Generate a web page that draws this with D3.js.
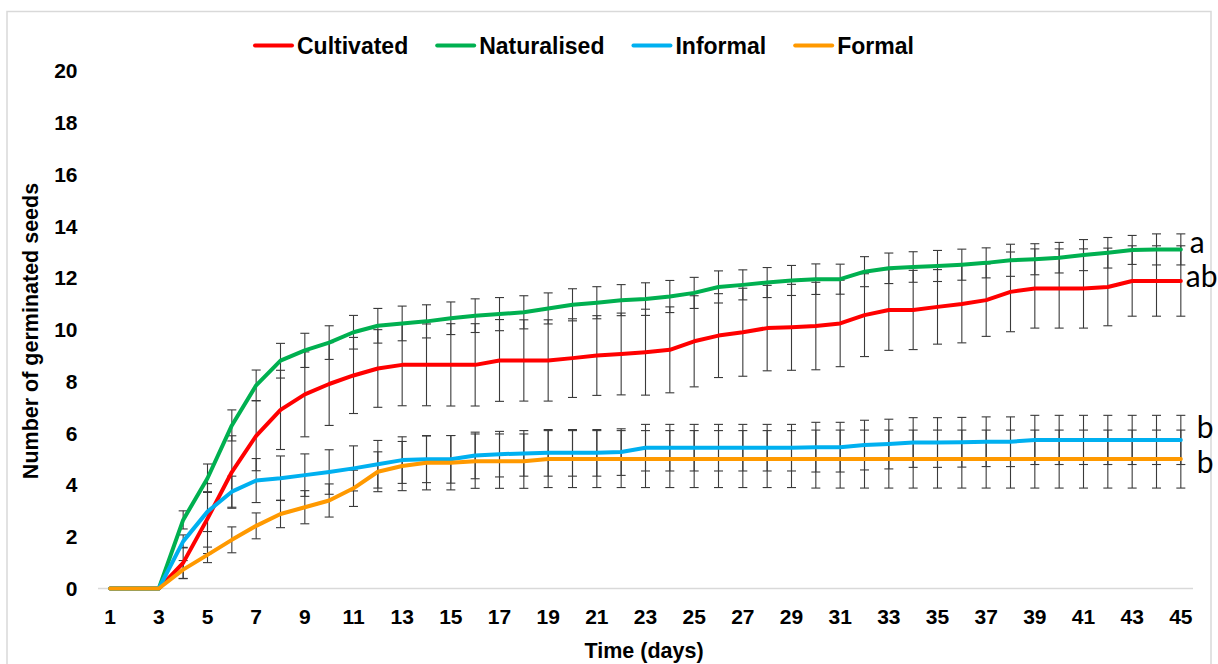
<!DOCTYPE html>
<html><head><meta charset="utf-8">
<script src="https://cdn.jsdelivr.net/npm/d3@7"></script>
<style>html,body{margin:0;padding:0;background:#fff;} svg{display:block;}</style>
</head><body><svg id="chart" width="1218" height="664"></svg>
<script>
const days = [1,2,3,4,5,6,7,8,9,10,11,12,13,14,15,16,17,18,19,20,21,22,23,24,25,26,27,28,29,30,31,32,33,34,35,36,37,38,39,40,41,42,43,44,45];
const xTickLabels = [1,3,5,7,9,11,13,15,17,19,21,23,25,27,29,31,33,35,37,39,41,43,45];
const yTicks = [0,2,4,6,8,10,12,14,16,18,20];
const seriesNames = ["Cultivated","Naturalised","Informal","Formal"];
const seriesColors = ["#FF0000","#00B050","#00B0F0","#FF9900"];
const groupLetters = ["ab","a","b","b"];

const cultivated = [0,0,0,0.99,2.7,4.5,5.9,6.9,7.5,7.9,8.23,8.5,8.64,8.64,8.64,8.64,8.81,8.81,8.81,8.9,9.0,9.06,9.13,9.22,9.55,9.77,9.9,10.06,10.09,10.14,10.24,10.56,10.76,10.76,10.88,10.99,11.14,11.46,11.59,11.59,11.59,11.65,11.88,11.88,11.88];
const cultivatedSE = [0,0,0,0.6,1.35,1.4,1.35,1.53,1.64,1.6,1.47,1.5,1.58,1.58,1.59,1.59,1.58,1.57,1.57,1.52,1.54,1.58,1.66,1.66,1.76,1.62,1.7,1.65,1.66,1.69,1.67,1.6,1.56,1.53,1.44,1.5,1.4,1.54,1.53,1.53,1.53,1.5,1.36,1.36,1.36];
const naturalised = [0,0,0,2.65,4.26,6.3,7.85,8.8,9.2,9.5,9.9,10.15,10.24,10.32,10.44,10.54,10.6,10.67,10.82,10.96,11.04,11.14,11.18,11.28,11.42,11.65,11.73,11.82,11.9,11.95,11.95,12.24,12.37,12.42,12.46,12.51,12.58,12.68,12.72,12.78,12.88,12.97,13.08,13.1,13.1];
const naturalisedSE = [0,0,0,0.35,0.55,0.6,0.59,0.67,0.66,0.65,0.65,0.67,0.67,0.64,0.63,0.65,0.64,0.64,0.6,0.62,0.62,0.6,0.63,0.62,0.6,0.62,0.58,0.58,0.58,0.59,0.58,0.58,0.59,0.59,0.6,0.6,0.58,0.62,0.6,0.59,0.6,0.59,0.56,0.6,0.6];
const informal = [0,0,0,1.82,2.97,3.74,4.17,4.26,4.38,4.5,4.64,4.8,4.96,4.99,4.99,5.14,5.19,5.22,5.24,5.24,5.24,5.27,5.44,5.44,5.44,5.44,5.44,5.44,5.44,5.46,5.46,5.54,5.58,5.64,5.64,5.65,5.67,5.67,5.74,5.74,5.74,5.74,5.74,5.74,5.74];
const informalSE = [0,0,0,0.25,0.77,0.6,0.85,0.86,0.82,0.86,0.87,0.92,0.9,0.9,0.92,0.9,0.88,0.88,0.9,0.9,0.9,0.9,0.9,0.9,0.9,0.9,0.9,0.9,0.9,0.96,0.96,0.96,0.96,0.96,0.96,0.96,0.96,0.96,0.95,0.95,0.95,0.95,0.95,0.95,0.95];
const formal = [0,0,0,0.73,1.3,1.88,2.42,2.88,3.14,3.4,3.87,4.51,4.73,4.86,4.86,4.92,4.92,4.92,5,5,5,5,5,5,5,5,5,5,5,5,5,5,5,5,5,5,5,5,5,5,5,5,5,5,5];
const formalSE = [0,0,0,0.35,0.3,0.5,0.5,0.53,0.64,0.64,0.7,0.77,0.95,1.05,1.05,1.05,1.05,1.05,1.1,1.1,1.1,1.1,1.1,1.1,1.1,1.1,1.1,1.1,1.1,1.12,1.12,1.12,1.12,1.12,1.12,1.12,1.12,1.12,1.12,1.12,1.12,1.12,1.12,1.12,1.12];

const seriesValues = [cultivated, naturalised, informal, formal];
const seriesErrors = [cultivatedSE, naturalisedSE, informalSE, formalSE];

const svg = d3.select("#chart");
const FONT = "'Liberation Sans', Arial, sans-serif";

// outer frame
svg.append("rect").attr("x", 7).attr("y", 11.5).attr("width", 1204).attr("height", 700)
  .attr("fill", "#fff").attr("stroke", "#d9d9d9").attr("stroke-width", 1.5);

const band = d3.scaleBand().domain(days).range([98, 1193]).padding(0);
const x = d => band(d) + band.bandwidth() / 2;
const y = d3.scaleLinear().domain([0, 20]).range([588.5, 70.8]);

// x axis line
svg.append("line").attr("x1", 98).attr("x2", 1193).attr("y1", y(0)).attr("y2", y(0))
  .attr("stroke", "#d9d9d9").attr("stroke-width", 1.5);

// y tick labels
svg.append("g").selectAll("text").data(yTicks).join("text")
  .attr("x", 77.5).attr("y", d => y(d) + 7.5)
  .attr("text-anchor", "end").attr("font-family", FONT).attr("font-weight", "bold")
  .attr("font-size", 21).attr("fill", "#000").text(d => d);

// x tick labels
svg.append("g").selectAll("text").data(xTickLabels).join("text")
  .attr("x", d => x(d)).attr("y", 624)
  .attr("text-anchor", "middle").attr("font-family", FONT).attr("font-weight", "bold")
  .attr("font-size", 21).attr("fill", "#000").text(d => d);

// axis titles
svg.append("text").attr("x", 644).attr("y", 657.5).attr("text-anchor", "middle")
  .attr("font-family", FONT).attr("font-weight", "bold").attr("font-size", 21.5)
  .text("Time (days)");
svg.append("text").attr("transform", "translate(38.3,331) rotate(-90)").attr("text-anchor", "middle")
  .attr("font-family", FONT).attr("font-weight", "bold").attr("font-size", 21.5)
  .text("Number of germinated seeds");

// error bars
const eg = svg.append("g").attr("stroke", "#3a3a3a").attr("stroke-width", 1.1);
seriesValues.forEach((vals, si) => {
  const errs = seriesErrors[si];
  days.forEach((d, i) => {
    const se = errs[i];
    if (!se) return;
    const cx = x(d), y1 = y(vals[i] + se), y2 = y(vals[i] - se);
    eg.append("line").attr("x1", cx).attr("x2", cx).attr("y1", y1).attr("y2", y2);
    eg.append("line").attr("x1", cx - 4.5).attr("x2", cx + 4.5).attr("y1", y1).attr("y2", y1);
    eg.append("line").attr("x1", cx - 4.5).attr("x2", cx + 4.5).attr("y1", y2).attr("y2", y2);
  });
});

// lines
const lineGen = d3.line().x((v, i) => x(days[i])).y(v => y(v));
seriesValues.forEach((vals, si) => {
  svg.append("path").attr("d", lineGen(vals)).attr("fill", "none")
    .attr("stroke", seriesColors[si]).attr("stroke-width", 4)
    .attr("stroke-linejoin", "round").attr("stroke-linecap", "round");
});

// group letters
const letterDx = [5, 9, 16, 16];
const letterDy = [6, 4, -2, 14];
seriesValues.forEach((vals, si) => {
  svg.append("text").attr("x", x(days[days.length - 1]) + letterDx[si])
    .attr("y", y(vals[vals.length - 1]) + letterDy[si])
    .attr("font-family", "Lato, 'Open Sans', sans-serif").attr("font-size", 30)
    .attr("fill", "#000").text(groupLetters[si]);
});

// legend
const lg = svg.append("g");
let lx = 255;
seriesNames.forEach((name, si) => {
  lg.append("line").attr("x1", lx).attr("x2", lx + 37).attr("y1", 45.5).attr("y2", 45.5)
    .attr("stroke", seriesColors[si]).attr("stroke-width", 4).attr("stroke-linecap", "round");
  const t = lg.append("text").attr("x", lx + 42).attr("y", 53.5)
    .attr("font-family", FONT).attr("font-weight", "bold").attr("font-size", 23)
    .attr("fill", "#000").text(name);
  lx = lx + 42 + t.node().getComputedTextLength() + 29;
});
</script>
</body></html>
